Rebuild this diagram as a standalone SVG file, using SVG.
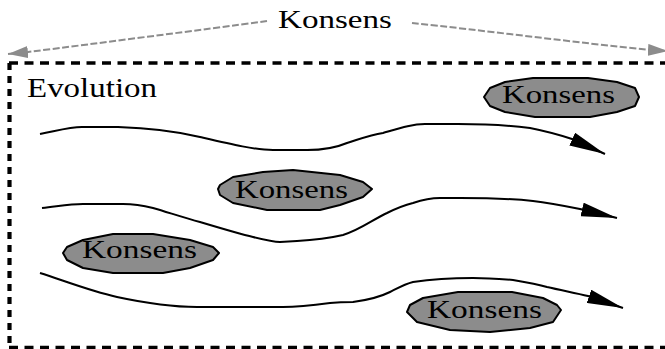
<svg xmlns="http://www.w3.org/2000/svg" width="665" height="349" viewBox="0 0 665 349">
<style>
  .txt { font-family: "Liberation Serif", "Times New Roman", serif; fill: #000; }
  .box { fill: none; stroke: #000; }
  .hdash { stroke-width: 3.5; stroke-dasharray: 9 6.5; }
  .vdash { stroke-width: 4.2; stroke-dasharray: 7 6; }
  .node { fill: #8c8c8c; stroke: #000; stroke-width: 2; stroke-linejoin: round; }
  .flow { fill: none; stroke: #000; stroke-width: 2; stroke-linejoin: round; marker-end: url(#bigArrow); }
  .gray { fill: none; stroke: #8c8c8c; stroke-width: 2; stroke-dasharray: 7 2.5; marker-end: url(#grayArrow); }
</style>
<defs>
  <marker id="bigArrow" viewBox="0 0 36 14" refX="36" refY="7" markerWidth="36" markerHeight="14" markerUnits="userSpaceOnUse" orient="auto">
    <path d="M0,0 L36,7 L0,14 z" fill="#000"/>
  </marker>
  <marker id="grayArrow" viewBox="0 0 20 12" refX="20" refY="6" markerWidth="20" markerHeight="12" markerUnits="userSpaceOnUse" orient="auto">
    <path d="M0,0 L20,6 L0,12 z" fill="#8c8c8c"/>
  </marker>
</defs>
<rect width="665" height="349" fill="#fff"/>

<g id="frame">
  <line class="box hdash" x1="9" y1="63" x2="665" y2="63"/>
  <line class="box vdash" x1="9.5" y1="63" x2="9.5" y2="349"/>
  <line class="box hdash" x1="9" y1="347.5" x2="665" y2="347.5"/>
  <text class="txt" x="27" y="97" font-size="28" textLength="130" lengthAdjust="spacingAndGlyphs">Evolution</text>
</g>

<g id="top-label">
  <text class="txt" x="278" y="28" font-size="26" textLength="114" lengthAdjust="spacingAndGlyphs">Konsens</text>
</g>

<g id="connectors">
  <path class="gray" d="M267,21 C200,30 100,43 28,52 L8,54"/>
  <path class="gray" d="M412,23 C480,30 580,43 650,50 L668,51"/>
  <path class="flow" d="M40,134 C60,130 70,127 82,127 L118,127 C150,128 175,131 200,137 C230,144 255,150 273,150 L307,150 C325,150 340,146 347,143 C360,139 370,135 383,133 C400,128 412,124 425,124 L458,124 C490,124 515,126 530,128 C545,131 560,135 572,139 L605,154"/>
  <path class="flow" d="M42,208 C60,206 70,204 83,204 L123,204 C135,204 145,206 153,208 C170,213 185,218 200,222 C220,228 240,234 253,237 C265,240 273,242 280,242 L297,241 C315,240 330,238 343,235 C360,230 372,220 387,213 C397,208 405,205 413,203 C425,199 432,198 440,198 L460,198 C490,198 515,199 533,201 C550,203 565,206 580,209 L617,218"/>
  <path class="flow" d="M40,273 C65,281 90,291 117,297 C145,303 170,307 197,307 L283,307 C300,307 315,305 330,303 C340,302 345,302 353,302 C368,300 380,297 390,292 C398,288 405,284 413,282 C433,279 453,278 473,278 C488,278 500,279 513,280 C525,282 537,284 547,287 C560,290 575,293 588,296 L623,308"/>
</g>

<g id="konsens-a">
  <polygon class="node" points="533,78 588,78 617,82 635,88 639,97 635,106 617,112 590,117 535,117 505,112 490,106 484,97 490,88 505,82"/>
  <text class="txt" x="502" y="103" font-size="26" textLength="113" lengthAdjust="spacingAndGlyphs">Konsens</text>
</g>

<g id="konsens-b">
  <polygon class="node" points="263,172 293,170 340,175 363,182 372,189 363,197 340,205 320,210 267,210 233,203 220,195 218,189 220,185 233,177"/>
  <text class="txt" x="235" y="198" font-size="26" textLength="113" lengthAdjust="spacingAndGlyphs">Konsens</text>
</g>

<g id="konsens-c">
  <polygon class="node" points="113,234 153,234 190,240 213,247 219,253 213,260 190,268 163,273 113,273 83,268 67,260 63,253 67,247 83,240"/>
  <text class="txt" x="82" y="258" font-size="26" textLength="115" lengthAdjust="spacingAndGlyphs">Konsens</text>
</g>

<g id="konsens-d">
  <polygon class="node" points="458,292 512,292 543,298 557,305 561,310 553,322 530,328 490,332 450,330 417,322 407,312 410,305 423,298"/>
  <text class="txt" x="427" y="318" font-size="26" textLength="115" lengthAdjust="spacingAndGlyphs">Konsens</text>
</g>
</svg>
